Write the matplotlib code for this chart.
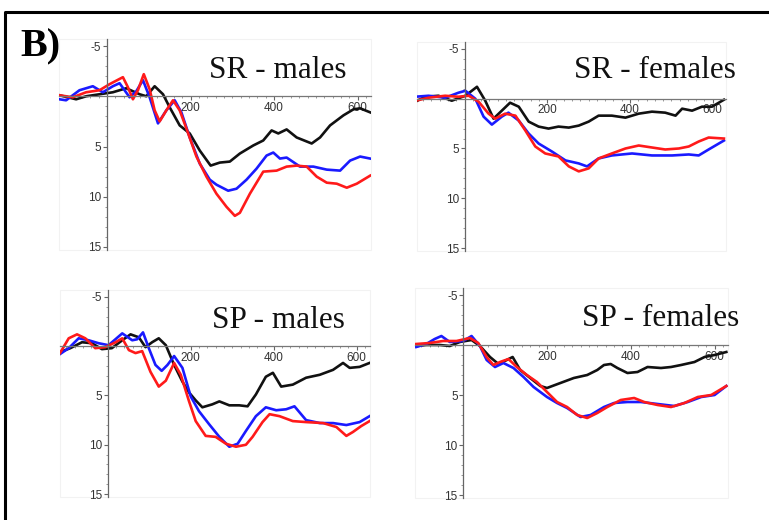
import matplotlib
matplotlib.use("Agg")
import matplotlib.pyplot as plt
from matplotlib.lines import Line2D
from matplotlib.ticker import MultipleLocator, FixedLocator

plt.rcParams["axes.unicode_minus"] = False

W, H = 769, 520

# ---- data (ms, amplitude; y axis is inverted, negative up) ----
# SR - males
srm_black_t = [-114, -74, -50, -18, 14, 46, 78, 94, 114, 134, 150, 174, 198, 222, 248, 270, 294,
               318, 350, 374, 394, 410, 430, 454, 490, 510, 534, 566, 590, 606, 630]
srm_black_v = [-0.1, 0.3, 0.0, -0.2, -0.4, -0.8, -0.2, 0.0, -1.0, -0.2, 1.1, 2.9, 3.7, 5.4, 6.9, 6.6, 6.5,
               5.7, 4.9, 4.4, 3.4, 3.7, 3.3, 4.1, 4.7, 4.1, 2.9, 1.9, 1.3, 1.2, 1.6]
srm_red_t = [-114, -82, -50, -18, 6, 38, 50, 62, 74, 88, 102, 114, 126, 142, 158, 174, 190, 214, 238,
             262, 286, 306, 318, 342, 374, 406, 430, 454, 478, 502, 526, 550, 574, 598, 630]
srm_red_v = [-0.1, 0.1, -0.4, -0.6, -1.2, -1.9, -0.9, 0.3, -0.6, -2.2, -0.7, 1.4, 2.5, 1.4, 0.4, 1.4, 3.2, 6.0, 8.0,
             9.7, 11.0, 11.9, 11.6, 9.7, 7.5, 7.4, 7.0, 6.9, 7.0, 8.0, 8.6, 8.7, 9.1, 8.7, 7.9]
srm_blue_t = [-114, -98, -66, -34, -10, 14, 30, 54, 70, 86, 102, 122, 142, 162, 178, 198, 222, 246, 262,
              290, 310, 334, 358, 382, 398, 414, 430, 462, 494, 526, 558, 582, 606, 630]
srm_blue_v = [0.3, 0.4, -0.6, -1.0, -0.4, -1.0, -1.3, 0.1, -0.5, -1.6, 0.1, 2.7, 1.4, 0.4, 1.6, 4.1, 6.7, 8.3, 8.8,
              9.4, 9.2, 8.3, 7.2, 5.9, 5.6, 6.2, 6.1, 7.0, 7.0, 7.3, 7.4, 6.4, 6.0, 6.2]

# SR - females
srf_black_t = [-119, -95, -63, -31, 2, 30, 50, 70, 90, 110, 131, 155, 179, 203, 227, 252, 276, 300,
               324, 356, 389, 421, 453, 485, 510, 526, 550, 574, 598, 627]
srf_black_v = [0.3, -0.2, -0.3, 0.2, -0.3, -1.2, 0.2, 2.0, 1.2, 0.4, 0.8, 2.3, 2.8, 3.0, 2.8, 2.9, 2.7, 2.3,
               1.7, 1.7, 1.9, 1.5, 1.3, 1.4, 1.7, 1.0, 1.2, 0.8, 0.8, 0.1]
srf_red_t = [-119, -87, -47, -15, 10, 34, 58, 74, 98, 123, 147, 171, 195, 227, 252, 276, 300, 324,
             356, 389, 421, 453, 485, 518, 542, 566, 590, 627]
srf_red_v = [0.2, -0.1, -0.3, -0.2, -0.3, 0.3, 1.5, 2.0, 1.5, 1.7, 3.2, 4.8, 5.5, 5.8, 6.8, 7.3, 7.0, 6.0,
             5.5, 5.0, 4.7, 4.9, 5.1, 5.0, 4.8, 4.3, 3.9, 4.0]
srf_blue_t = [-119, -87, -47, -15, 2, 26, 46, 66, 90, 106, 131, 155, 179, 211, 244, 276, 296, 324,
              356, 405, 453, 502, 542, 566, 590, 627]
srf_blue_v = [-0.2, -0.3, -0.1, -0.6, -0.8, 0.0, 1.8, 2.6, 1.8, 1.4, 2.2, 3.5, 4.5, 5.3, 6.2, 6.5, 6.8, 6.0,
              5.7, 5.5, 5.7, 5.7, 5.6, 5.7, 5.1, 4.2]

# SP - males
spm_black_t = [-115, -90, -62, -38, -14, 10, 35, 55, 75, 91, 107, 123, 140, 160, 180, 196, 212, 228,
               252, 269, 293, 317, 337, 357, 381, 398, 418, 446, 478, 511, 543, 567, 583, 607, 631]
spm_black_v = [0.6, 0.2, -0.4, -0.3, 0.3, 0.2, -0.6, -1.2, -0.9, 0.1, -0.4, -0.8, -0.1, 1.9, 3.6, 4.7, 5.5, 6.2,
               5.9, 5.6, 6.0, 6.0, 6.1, 4.9, 3.1, 2.7, 4.1, 3.9, 3.2, 2.9, 2.4, 1.7, 2.2, 2.1, 1.7]
spm_red_t = [-115, -94, -74, -54, -30, -6, 19, 35, 51, 67, 83, 103, 123, 140, 160, 176, 196, 212, 236,
             260, 285, 309, 333, 349, 373, 390, 414, 446, 478, 519, 551, 575, 591, 611, 631]
spm_red_v = [0.7, -0.8, -1.2, -0.8, 0.2, 0.1, -0.4, -0.8, 0.4, 0.7, 0.5, 2.6, 4.1, 3.5, 1.7, 2.9, 5.6, 7.6, 9.1,
             9.2, 9.9, 10.2, 10.0, 9.2, 7.7, 6.9, 7.1, 7.6, 7.7, 7.8, 8.2, 9.1, 8.7, 8.1, 7.6]
spm_blue_t = [-115, -94, -70, -46, -22, 2, 35, 59, 71, 85, 99, 115, 130, 144, 160, 180, 200, 220, 244,
              269, 293, 313, 333, 357, 381, 406, 430, 450, 478, 511, 543, 575, 607, 631]
spm_blue_v = [0.8, 0.2, -0.8, -0.6, -0.3, -0.1, -1.3, -0.6, -0.7, -1.4, 0.2, 1.9, 2.5, 1.9, 1.0, 2.2, 5.1, 6.6, 7.9,
              9.2, 10.2, 9.9, 8.6, 7.1, 6.2, 6.5, 6.4, 6.1, 7.5, 7.8, 7.8, 8.0, 7.7, 7.1]

# SP - females
spf_black_t = [-112, -88, -56, -32, -8, 20, 40, 64, 84, 104, 118, 136, 160, 184, 200, 232, 264, 296,
               320, 336, 352, 368, 392, 416, 440, 472, 496, 520, 552, 576, 600, 628]
spf_black_v = [0.1, 0.0, 0.0, 0.1, -0.3, -0.5, 0.1, 1.2, 1.9, 1.5, 1.2, 2.5, 3.3, 4.1, 4.3, 3.8, 3.3, 3.0,
               2.5, 2.0, 1.9, 2.3, 2.8, 2.7, 2.2, 2.3, 2.2, 2.0, 1.7, 1.2, 1.0, 0.7]
spf_red_t = [-112, -80, -48, -16, 16, 36, 56, 72, 88, 108, 128, 152, 176, 200, 224, 248, 272, 296,
             320, 344, 376, 408, 432, 464, 496, 528, 560, 592, 628]
spf_red_v = [-0.1, -0.2, -0.4, -0.4, -0.7, -0.2, 1.2, 2.0, 1.7, 1.4, 2.2, 3.0, 3.7, 4.7, 5.7, 6.2, 7.0, 7.3,
             6.8, 6.2, 5.5, 5.3, 5.7, 6.0, 6.2, 5.8, 5.2, 5.0, 4.1]
spf_blue_t = [-112, -88, -68, -52, -32, 0, 20, 40, 56, 76, 96, 120, 144, 168, 200, 224, 248, 280, 304,
              336, 360, 392, 424, 464, 504, 536, 568, 600, 628]
spf_blue_v = [0.2, -0.1, -0.6, -0.9, -0.3, -0.4, -0.9, 0.1, 1.5, 2.2, 1.8, 2.3, 3.2, 4.2, 5.2, 5.8, 6.3, 7.2, 7.0,
              6.2, 5.8, 5.7, 5.7, 5.9, 6.1, 5.7, 5.2, 5.0, 4.1]

titles = ["SR - males", "SR - females", "SP - males", "SP - females"]
series = [
    [(srm_black_t, srm_black_v), (srm_blue_t, srm_blue_v), (srm_red_t, srm_red_v)],
    [(srf_black_t, srf_black_v), (srf_blue_t, srf_blue_v), (srf_red_t, srf_red_v)],
    [(spm_black_t, spm_black_v), (spm_blue_t, spm_blue_v), (spm_red_t, spm_red_v)],
    [(spf_black_t, spf_black_v), (spf_blue_t, spf_blue_v), (spf_red_t, spf_red_v)],
]
colors = ["#111111", "#1a1aff", "#ff1a1a"]

XLIM = (-115, 632)
YLIM = (15.3, -5.7)

# pixel frames of each panel: left, right, top, bottom
frames = [(59, 371, 39, 250), (417, 726, 42, 251), (60, 370, 290, 497), (415, 728, 288, 498)]
# pixel anchor (left edge, vertical centre) of each panel title
title_px = [(209, 70), (574, 70), (212, 321), (582, 319)]

fig = plt.figure(figsize=(W / 100, H / 100), dpi=100)

for (l, r, t, b), title, (tx, ty), ser in zip(frames, titles, title_px, series):
    ax = fig.add_axes([l / W, 1 - b / H, (r - l) / W, (b - t) / H])
    for (xs, ys), c in zip(ser, colors):
        ax.plot(xs, ys, color=c, lw=1.9, solid_joinstyle="round")
    ax.set_xlim(*XLIM)
    ax.set_ylim(*YLIM)

    for s in ["top", "right"]:
        ax.spines[s].set_visible(False)
    ax.spines["left"].set_position(("data", 0))
    ax.spines["bottom"].set_position(("data", 0))
    ax.spines["left"].set_color("#666666")
    ax.spines["bottom"].set_color("#777777")
    ax.spines["left"].set_linewidth(0.9)
    ax.spines["bottom"].set_linewidth(0.9)

    ax.xaxis.set_major_locator(FixedLocator([200, 400, 600]))
    ax.xaxis.set_minor_locator(MultipleLocator(20))
    ax.yaxis.set_major_locator(FixedLocator([-5, 5, 10, 15]))
    ax.yaxis.set_minor_locator(MultipleLocator(1))
    ax.tick_params(axis="both", which="major", length=3, width=0.8, color="#666666",
                   labelsize=8.5, labelcolor="#333333", pad=1)
    ax.tick_params(axis="both", which="minor", length=1.5, width=0.6, color="#888888")
    for lab in ax.get_xticklabels() + ax.get_yticklabels():
        lab.set_family("Liberation Sans")

    # faint frame around the plot area
    ax.add_patch(plt.Rectangle((0, 0), 1, 1, transform=ax.transAxes, fill=False,
                               edgecolor="#f2f2f2", lw=0.8, clip_on=False))
    ax.patch.set_alpha(0)

    fig.text(tx / W, 1 - ty / H, title, ha="left", va="center",
             fontsize=22.5, family="Liberation Serif", color="#111111")

fig.text(20 / W, 1 - 47 / H, "B)", ha="left", va="center", fontsize=29,
         fontweight="bold", family="Liberation Serif")

# outer border (top and left edges visible)
fig.add_artist(Line2D([5 / W, 5 / W, 1.0], [0.0, 1 - 12 / H, 1 - 12 / H],
                      transform=fig.transFigure, color="black", lw=2.2))

fig.savefig("out.png", dpi=100)
